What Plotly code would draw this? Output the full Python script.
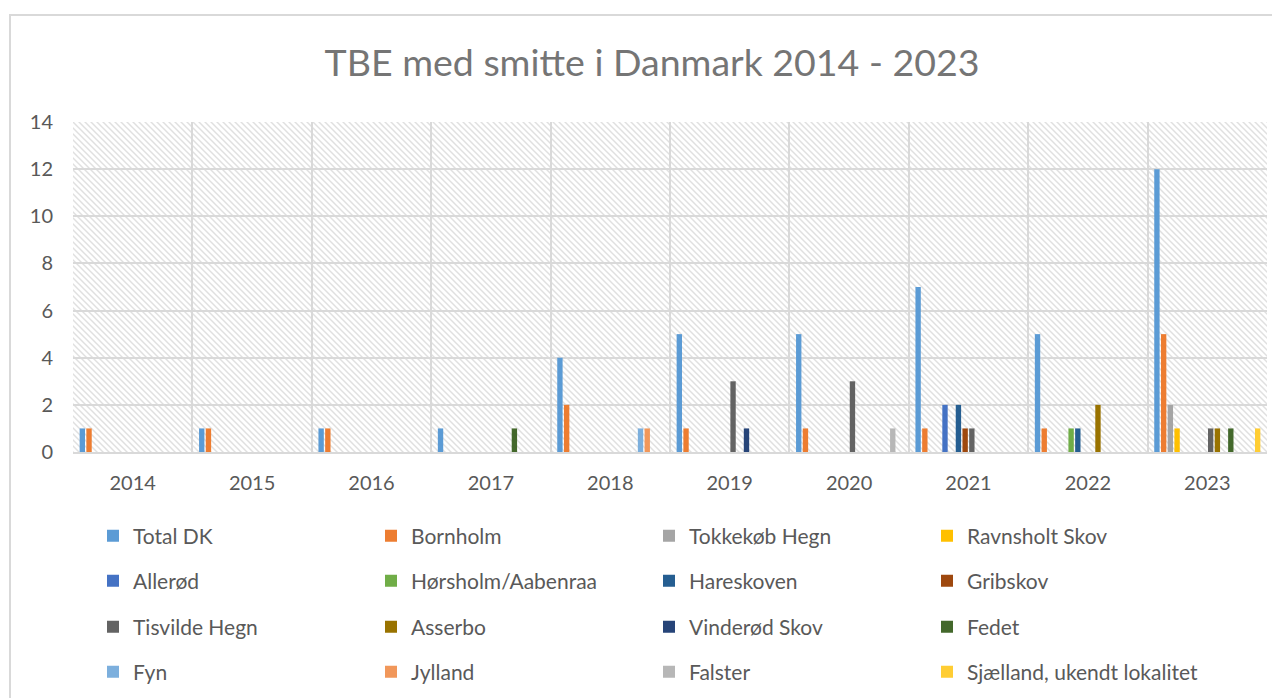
import base64
import plotly.graph_objects as go

years = ["2014", "2015", "2016", "2017", "2018", "2019", "2020", "2021", "2022", "2023"]

total_dk        = [1, 1, 1, 1, 4, 5, 5, 7, 5, 12]
bornholm        = [1, 1, 1, 0, 2, 1, 1, 1, 1, 5]
tokkekob_hegn   = [0, 0, 0, 0, 0, 0, 0, 0, 0, 2]
ravnsholt_skov  = [0, 0, 0, 0, 0, 0, 0, 0, 0, 1]
allerod         = [0, 0, 0, 0, 0, 0, 0, 2, 0, 0]
horsholm        = [0, 0, 0, 0, 0, 0, 0, 0, 1, 0]
hareskoven      = [0, 0, 0, 0, 0, 0, 0, 2, 1, 0]
gribskov        = [0, 0, 0, 0, 0, 0, 0, 1, 0, 0]
tisvilde_hegn   = [0, 0, 0, 0, 0, 3, 3, 1, 0, 1]
asserbo         = [0, 0, 0, 0, 0, 0, 0, 0, 2, 1]
vinderod_skov   = [0, 0, 0, 0, 0, 1, 0, 0, 0, 0]
fedet           = [0, 0, 0, 1, 0, 0, 0, 0, 0, 1]
fyn             = [0, 0, 0, 0, 1, 0, 0, 0, 0, 0]
jylland         = [0, 0, 0, 0, 1, 0, 0, 0, 0, 0]
falster         = [0, 0, 0, 0, 0, 0, 1, 0, 0, 0]
sjaelland       = [0, 0, 0, 0, 0, 0, 0, 0, 0, 1]

series_names = ["Total DK", "Bornholm", "Tokkekøb Hegn", "Ravnsholt Skov",
                "Allerød", "Hørsholm/Aabenraa", "Hareskoven", "Gribskov",
                "Tisvilde Hegn", "Asserbo", "Vinderød Skov", "Fedet",
                "Fyn", "Jylland", "Falster", "Sjælland, ukendt lokalitet"]
series_values = [total_dk, bornholm, tokkekob_hegn, ravnsholt_skov,
                 allerod, horsholm, hareskoven, gribskov,
                 tisvilde_hegn, asserbo, vinderod_skov, fedet,
                 fyn, jylland, falster, sjaelland]
series_colors = ["#5B9BD5", "#ED7D31", "#A5A5A5", "#FFC000",
                 "#4472C4", "#70AD47", "#255E91", "#9E480E",
                 "#636363", "#997300", "#264478", "#43682B",
                 "#7CAFDD", "#F1975A", "#B7B7B7", "#FFCD33"]

# the page body has an 8px margin, so the figure starts at (8, 8) in the window
OFF = 8
W, H = 1280 - OFF, 698 - OFF
L, R, T, B = 73 - OFF, 13, 122 - OFF, 246
PW, PH = W - L - R, H - T - B

FONT = "Lato"
TXT = "#595959"
GRID = "#d9d9d9"

fig = go.Figure()
legend_ids = ["legend", "legend2", "legend3", "legend4"]
for i, (name, vals, col) in enumerate(zip(series_names, series_values, series_colors)):
    fig.add_trace(go.Bar(x=years, y=vals, name=name, marker=dict(color=col, line=dict(width=0)),
                         legend=legend_ids[i // 4], hoverinfo="x+y+name"))

# hatched plot background
svg = (f"<svg xmlns='http://www.w3.org/2000/svg' width='{PW}' height='{PH}' viewBox='0 0 {PW} {PH}'>"
       "<defs><pattern id='p' width='6' height='6' patternUnits='userSpaceOnUse'>"
       "<path d='M0,0 L6,6 M5,-1 L7,1 M-1,5 L1,7' stroke='#e0e0e0' stroke-width='1.5'/>"
       "</pattern></defs><rect width='100%' height='100%' fill='white'/>"
       "<rect width='100%' height='100%' fill='url(#p)'/></svg>")
src = "data:image/svg+xml;base64," + base64.b64encode(svg.encode()).decode()
fig.add_layout_image(dict(source=src, xref="paper", yref="paper", x=0, y=1, sizex=1, sizey=1,
                          xanchor="left", yanchor="top", sizing="stretch", layer="below"))


def px2x(px):
    # window pixel x -> paper x
    return (px - OFF - L) / PW


def py2y(py):
    # window pixel y -> paper y
    return (H - B - (py - OFF)) / PH


# outer chart border
fig.add_shape(type="rect", xref="paper", yref="paper",
              x0=px2x(10), x1=px2x(1300), y0=py2y(720), y1=py2y(15),
              line=dict(color=GRID, width=2), fillcolor="rgba(0,0,0,0)", layer="above")

row_y = [536, 581, 627, 672]
legend_common = dict(orientation="h", x=px2x(93), xanchor="left", yanchor="middle",
                     entrywidth=233, entrywidthmode="pixels", bgcolor="rgba(0,0,0,0)",
                     font=dict(family=FONT, size=21, color=TXT), itemclick=False,
                     itemdoubleclick=False)

fig.update_layout(
    width=W, height=H,
    margin=dict(l=L, r=R, t=T, b=B, autoexpand=False),
    paper_bgcolor="white", plot_bgcolor="rgba(0,0,0,0)",
    barmode="group", bargap=0.1, bargroupgap=0.2,
    title=dict(text="TBE med smitte i Danmark 2014 - 2023", x=(652 - OFF) / W, xref="container",
               xanchor="center", y=1 - (63 - OFF) / H, yanchor="middle",
               font=dict(family=FONT, size=37.5, color="#757575")),
    font=dict(family=FONT, color=TXT),
    xaxis=dict(type="category", tickson="boundaries", showgrid=True, gridcolor=GRID, gridwidth=2,
               showline=True, linecolor=GRID, linewidth=2, ticks="", ticklabelstandoff=12,
               tickfont=dict(family=FONT, size=20, color=TXT),
               fixedrange=True),
    yaxis=dict(range=[0, 14], dtick=2, showgrid=True, gridcolor=GRID, gridwidth=2,
               zeroline=False, showline=False, ticks="outside", ticklen=15,
               tickcolor="rgba(0,0,0,0)", tickfont=dict(family=FONT, size=20, color=TXT),
               fixedrange=True),
    legend=dict(y=py2y(row_y[0]), **legend_common),
    legend2=dict(y=py2y(row_y[1]), **legend_common),
    legend3=dict(y=py2y(row_y[2]), **legend_common),
    legend4=dict(y=py2y(row_y[3]), **legend_common),
)

fig.write_html("out.html")
